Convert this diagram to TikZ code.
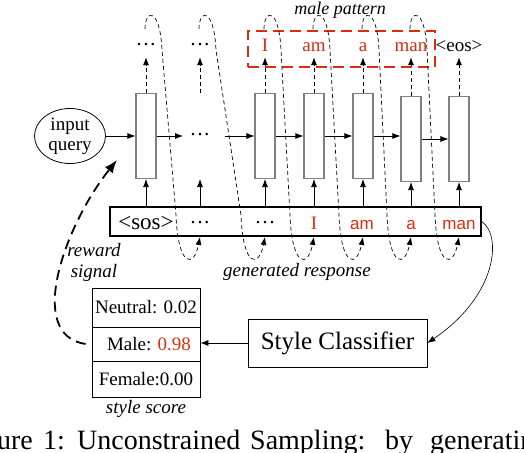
\documentclass[tikz,border=0pt]{standalone}
\usepackage{fontspec}
\setmainfont{Liberation Serif}
\newfontfamily\sansf{Liberation Sans}
\usetikzlibrary{shapes.geometric,arrows.meta}
\definecolor{tokred}{RGB}{218,45,15}
\newcommand{\fsz}[1]{\fontsize{#1}{#1}\selectfont}
\newcommand{\mydots}{\fsz{21}\textperiodcentered\textperiodcentered\textperiodcentered}
\begin{document}
\begin{tikzpicture}[x=1pt,y=-1pt,
  cell/.style={draw=black!50, line width=1.1pt, minimum width=20pt, minimum height=85pt, inner sep=0pt},
  tok/.style={inner sep=0pt, anchor=base, text depth=0pt, font=\fsz{19}},
  rtok/.style={tok, text=tokred},
  stok/.style={tok, text=tokred, font=\fsz{17}\sansf},
  arr/.style={-{Latex[length=8pt,width=6pt]}, line width=0.8pt},
  darr/.style={arr, dash pattern=on 4pt off 3pt},
  loopd/.style={-{Latex[length=8pt,width=6pt]}, line width=0.7pt, dash pattern=on 4pt off 3pt},
  lbl/.style={font=\fontsize{19}{21}\selectfont\itshape, align=center, inner sep=0pt},
  captxt/.style={inner sep=0pt, font=\fsz{28}}
]
\useasboundingbox (0,0) rectangle (524,452);

% input query
\node[draw, ellipse, line width=0.8pt, minimum width=71pt, minimum height=55pt, inner sep=0pt,
      align=center, font=\fontsize{19}{20}\selectfont] (q) at (70,136) {input\\query};

% cells
\node[cell] (c1) at (146,136) {};
\node[cell, draw=none] (c2) at (200,136) {};
\node[tok] (d2) at (200,141) {\mydots};
\node[cell] (c3) at (265,136) {};
\node[cell] (c4) at (314,136) {};
\node[cell] (c5) at (363,136) {};
\node[cell] (c6) at (411,139) {};
\node[cell] (c7) at (459,139) {};

% horizontal arrows
\draw[arr] (q.east) -- (c1.west);
\draw[arr] (c1.east) -- ([xshift=-17pt]c2.center);
\draw[arr] ([xshift=25pt]c2.center) -- (c3.west);
\draw[arr] (c3.east) -- (c4.west);
\draw[arr] (c4.east) -- (c5.west);
\draw[arr] (c5.east) -- (c5.east -| c6.west);
\draw[arr] (c6.east) -- (c7.west);

% outputs
\node[tok] (o1) at (146,52) {\mydots};
\node[tok] (o2) at (200,52) {\mydots};
\node[rtok] (o3) at (265,52) {I};
\node[rtok] (o4) at (314,52) {am};
\node[rtok] (o5) at (363,52) {a};
\node[rtok] (o6) at (411,52) {man};
\node[tok] (o7) at (459,52) {<eos>};
\foreach \k in {1,...,7} {
  \draw[darr] (c\k.north) -- ([yshift=-5pt]o\k.south);
}

% male pattern box
\node[draw=tokred, line width=2pt, dash pattern=on 11pt off 6pt, minimum width=187pt,
      minimum height=36pt, inner sep=0pt] (mp) at (341.5,49) {};
\node[lbl, font=\fsz{18}\itshape] (mpl) at (340,10) {male pattern};

% sequence box
\node[draw, line width=1.3pt, minimum width=371pt, minimum height=29pt, inner sep=0pt] (seq) at (295.5,221.5) {};
\node[tok, font=\fsz{23}] (s1) at (146,229) {<sos>};
\node[tok] (s2) at (200,229) {\mydots};
\node[tok] (s3) at (265,229) {\mydots};
\node[rtok] (s4) at (314,229) {I};
\node[stok] (s5) at (362,229) {am};
\node[stok] (s6) at (411,229) {a};
\node[stok] (s7) at (459,229) {man};
\foreach \k in {1,...,7} {
  \draw[arr] (seq.north -| c\k.south) -- (c\k.south);
}

% feedback loops
\foreach \a/\b in {146/200, 200/265, 265/314, 314/363, 363/411, 411/459} {
  \draw[loopd] (\a-1,29) .. controls (\a-1,9) and (\a+14,7) .. (\a+16,50)
     -- (\b-24,215) .. controls (\b-22,268) and (\b-6,268) .. (\b,237);
}
\node[lbl] (gr) at (297,272) {generated response};

% style classifier
\node[draw, line width=0.8pt, minimum width=179pt, minimum height=48pt, font=\fsz{25}] (sc) at (337.5,343) {Style Classifier};
\draw[-{Latex[length=8pt,width=6pt]}, line width=0.6pt] (seq.east) .. controls (502,235) and (498,295) .. (sc.east);

% style score table
\node[draw, line width=0.8pt, minimum width=108pt, minimum height=39pt, inner sep=0pt, font=\fsz{19}] (r1) at (146,307.5) {Neutral: 0.02};
\node[draw, line width=0.8pt, minimum width=108pt, minimum height=34pt, inner sep=0pt, font=\fsz{19}] (r2) at (146,344) {\hspace{6pt}Male: \textcolor{tokred}{0.98}};
\node[draw, line width=0.8pt, minimum width=108pt, minimum height=36pt, inner sep=0pt, font=\fsz{19}] (r3) at (146,379) {Female:0.00};
\node[lbl] (ss) at (146,409) {style score};
\draw[arr] (sc.west) -- (sc.west -| r2.east);

% reward signal
\coordinate (rs) at (117,160);
\draw[line width=1.8pt, dash pattern=on 10pt off 6pt, -{Latex[length=13pt,width=10pt]}]
  ([xshift=-6pt]r2.west) .. controls (25,335) and (65,225) .. (rs);
\node[lbl] (rl) at (94,262) {reward\\signal};

% caption (cut off)
\node[captxt, anchor=base east] (f1) at (33,449) {Figure};
\node[captxt, anchor=base west] (f2) at (43,449) {1:};
\node[captxt, anchor=base west] (f3) at (77,449) {Unconstrained};
\node[captxt, anchor=base west] (f4) at (250,449) {Sampling:};
\node[captxt, anchor=base west] (f5) at (385,449) {by};
\node[captxt, anchor=base west] (f6) at (430,449) {generating};
\end{tikzpicture}
\end{document}
